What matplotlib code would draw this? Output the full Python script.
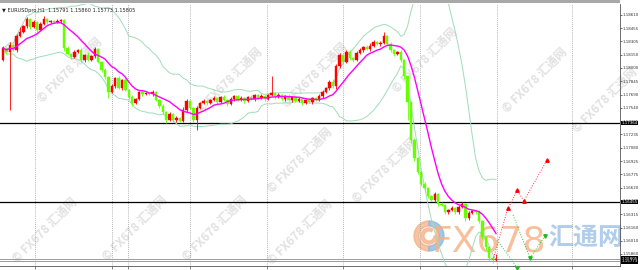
import matplotlib
matplotlib.use("Agg")
import matplotlib.pyplot as plt
import pandas as pd
from matplotlib.patches import Rectangle, Wedge

# EURUSD H1 closes (open of each bar = previous close)
first_open = 1.18088
closes = [
    1.18226, 1.18180, 1.18261, 1.18203, 1.18364, 1.18410, 1.18479, 1.18560, 1.18468, 1.18525,
    1.18433, 1.18502, 1.18560, 1.18525, 1.18537, 1.18525, 1.18537, 1.18548, 1.18226, 1.18157,
    1.18123, 1.18180, 1.18203, 1.18088, 1.18146, 1.18088, 1.18134, 1.18215, 1.18065, 1.17973,
    1.17893, 1.17720, 1.17789, 1.17881, 1.17766, 1.17858, 1.17743, 1.17663, 1.17594, 1.17640,
    1.17720, 1.17697, 1.17709, 1.17697, 1.17720, 1.17628, 1.17559, 1.17490, 1.17398, 1.17467,
    1.17398, 1.17421, 1.17387, 1.17513, 1.17617, 1.17536, 1.17398, 1.17536, 1.17594, 1.17617,
    1.17594, 1.17628, 1.17651, 1.17605, 1.17663, 1.17628, 1.17582, 1.17640, 1.17674, 1.17628,
    1.17651, 1.17617, 1.17663, 1.17640, 1.17686, 1.17651, 1.17674, 1.17640, 1.17686, 1.17709,
    1.17663, 1.17686, 1.17640, 1.17674, 1.17628, 1.17663, 1.17617, 1.17640, 1.17594, 1.17628,
    1.17605, 1.17651, 1.17628, 1.17674, 1.17720, 1.17766, 1.17835, 1.17789, 1.18019, 1.18146,
    1.18065, 1.18180, 1.18111, 1.18088, 1.18169, 1.18203, 1.18238, 1.18215, 1.18249, 1.18295,
    1.18272, 1.18284, 1.18364, 1.18272, 1.18203, 1.18157, 1.18180, 1.18088, 1.17904, 1.17605,
    1.17168, 1.16961, 1.16800, 1.16662, 1.16616, 1.16524, 1.16478, 1.16547, 1.16432, 1.16421,
    1.16340, 1.16363, 1.16386, 1.16340, 1.16398, 1.16432, 1.16271, 1.16329, 1.16352, 1.16340,
    1.16237, 1.16053, 1.15938, 1.15811, 1.15791, 1.15805]

# wick lengths in points (1e-5)
upper_wick = [
    20, 15, 30, 10, 25, 60, 15, 20, 10, 25,
    15, 20, 30, 10, 15, 10, 20, 15, 10, 20,
    15, 25, 10, 20, 15, 30, 15, 20, 10, 15,
    20, 10, 25, 15, 20, 10, 25, 15, 20, 10,
    15, 20, 10, 15, 25, 10, 15, 20, 10, 25,
    15, 20, 10, 30, 20, 15, 10, 25, 15, 20,
    10, 15, 20, 10, 15, 25, 10, 20, 15, 10,
    20, 15, 10, 25, 15, 10, 20, 15, 10, 195,
    15, 20, 10, 15, 20, 10, 15, 25, 10, 15,
    20, 10, 15, 20, 25, 15, 20, 30, 25, 20,
    15, 25, 20, 15, 20, 25, 15, 20, 30, 20,
    15, 25, 46, 15, 20, 10, 15, 20, 15, 10,
    15, 20, 10, 15, 20, 10, 15, 25, 10, 20,
    15, 10, 20, 15, 25, 20, 15, 20, 10, 15,
    20, 15, 10, 15, 20, 55]
lower_wick = [
    15, 20, 667, 15, 20, 10, 15, 20, 25, 10,
    20, 15, 10, 20, 15, 10, 15, 20, 30, 15,
    20, 10, 15, 25, 20, 15, 10, 20, 15, 25,
    20, 70, 15, 20, 10, 25, 15, 20, 30, 15,
    10, 20, 15, 10, 20, 15, 25, 20, 30, 15,
    20, 25, 15, 10, 20, 15, 20, 115, 15, 10,
    20, 15, 10, 20, 15, 10, 25, 15, 20, 10,
    15, 20, 10, 15, 20, 10, 15, 20, 15, 10,
    20, 15, 10, 20, 15, 25, 10, 15, 20, 10,
    15, 20, 10, 15, 20, 15, 25, 20, 30, 25,
    20, 15, 25, 20, 15, 10, 20, 15, 25, 10,
    15, 20, 10, 15, 20, 25, 15, 20, 40, 207,
    40, 30, 25, 20, 25, 20, 15, 25, 20, 15,
    25, 20, 15, 20, 25, 15, 30, 20, 15, 20,
    25, 20, 30, 35, 40, 18]

level_lines = [1.17364, 1.16455]
price_lines = [1.15805, 1.15773]
tick_labels = ["1.15860", "1.16010", "1.16160", "1.16315", "1.16470", "1.16620", "1.16775",
               "1.16925", "1.17080", "1.17235", "1.17385", "1.17540", "1.17690", "1.17845",
               "1.18000", "1.18150", "1.18305", "1.18455", "1.18610"]
grid_bars = [9.4, 32, 36.8, 55, 77.6, 100, 122.6, 145.3, 167.4]

# forecast arrows (bar index, price)
red_a_x = [144.1, 148.5]
red_a_y = [1.15788, 1.16386]
red_b_x = [149.1, 151.2, 153.2, 160.0]
red_b_y = [1.16421, 1.16593, 1.16467, 1.16938]
green_a_x = [145.3, 151.2]
green_a_y = [1.16018, 1.15700]
green_b_x = [150.0, 155.0, 159.4]
green_b_y = [1.16305, 1.15811, 1.16064]

header = "\u25bc EURUSDpro,H1  1.15791 1.15860 1.15773 1.15805"

opens = [first_open] + closes[:-1]
highs = [max(o, c) + w / 1e5 for o, c, w in zip(opens, closes, upper_wick)]
lows = [min(o, c) - w / 1e5 for o, c, w in zip(opens, closes, lower_wick)]

s = pd.Series(closes)
ma = s.rolling(10, min_periods=1).mean()
mid = s.rolling(20, min_periods=1).mean()
sd = s.rolling(20, min_periods=1).std(ddof=0)
bb_up = mid + 2 * sd
bb_dn = mid - 2 * sd

cjk = ["Noto Sans CJK SC", "DejaVu Sans"]

fig = plt.figure(figsize=(6.4, 2.7), dpi=100)
fig.patch.set_facecolor("white")

# background layer in pixel coordinates (watermarks, logo)
bg = fig.add_axes([0, 0, 1, 1])
bg.set_xlim(0, 640)
bg.set_ylim(270, 0)
bg.axis("off")
bg.add_patch(Rectangle((0, 0), 620, 3, color="#A8A8A8", lw=0))

wm = [(70, 70), (230, 80), (315, 75), (425, 60), (535, 80), (605, 100),
      (45, 230), (135, 228), (215, 228), (300, 160), (385, 170), (300, 232)]
for wx, wy in wm:
    bg.text(wx, wy, "\u00a9 FX678 \u6c47\u901a\u7f51", rotation=45, fontsize=8.5,
            color="#C4C4C4", alpha=0.5, ha="center", va="center", family=cjk,
            fontweight="bold")

bg.add_patch(Wedge((429, 236), 15, 90, 270, width=5, color="#F6B48A", alpha=0.8))
bg.add_patch(Wedge((429, 236), 15, -90, 90, width=5, color="#8DB8E2", alpha=0.8))
bg.add_patch(Wedge((429, 236), 8, 0, 300, width=3, color="#F6B48A", alpha=0.8))
bg.text(489, 242, "FX678", fontsize=26, color="#F7B084", alpha=0.8, ha="center",
        va="center", family=["Liberation Sans Narrow", "DejaVu Sans"])
bg.text(586, 238, "\u6c47\u901a\u7f51", fontsize=18, color="#9CC2E8", alpha=0.8,
        ha="center", va="center", family=cjk, fontweight="bold")

ax = fig.add_axes([0, 4 / 270, 620 / 640, 262 / 270])
ax.set_facecolor("none")
ax.set_xlim(-0.88, 181.47)
ax.set_ylim(1.15719, 1.18732)

for gx in grid_bars:
    ax.axvline(gx, color="#9A9A9A", lw=0.6, ls=(0, (1, 1.5)), zorder=1)

for lv in level_lines:
    ax.axhline(lv, color="black", lw=0.9, zorder=2)
for pl in price_lines:
    ax.axhline(pl, color="#9A9A9A", lw=0.7, zorder=2)

ax.plot(range(len(closes)), bb_up, color="#9FDDB8", lw=0.7, zorder=3)
ax.plot(range(len(closes)), bb_dn, color="#9FDDB8", lw=0.7, zorder=3)

x = list(range(len(closes)))
cols = ["#FF0000" if c >= o else "#66FF00" for o, c in zip(opens, closes)]
ax.vlines(x, lows, highs, colors=cols, lw=0.6, zorder=4)
ax.bar(x, [c - o for o, c in zip(opens, closes)], bottom=opens, width=0.75,
       color=cols, edgecolor=cols, lw=0.3, zorder=5)

ax.plot(x, ma, color="#FF00FF", lw=1.0, zorder=6)

ax.plot(red_a_x, red_a_y, color="#FF3030", lw=0.7, ls=":", zorder=7)
ax.plot(red_b_x, red_b_y, color="#FF3030", lw=0.7, ls=":", zorder=7)
ax.plot(red_a_x[-1:], red_a_y[-1:], "^", color="#FF0000", ms=2.5, zorder=7)
ax.plot(red_b_x[1:], red_b_y[1:], "^", color="#FF0000", ms=2.5, zorder=7)
ax.plot(green_a_x, green_a_y, color="#33CC33", lw=0.7, ls=":", zorder=7, clip_on=False)
ax.plot(green_b_x, green_b_y, color="#33CC33", lw=0.7, ls=":", zorder=7)
ax.plot(green_a_x[-1:], green_a_y[-1:], "v", color="#22BB22", ms=2.5, zorder=7, clip_on=False)
ax.plot(green_b_x[1:], green_b_y[1:], "v", color="#22BB22", ms=2.5, zorder=7)

for sp in ["left", "top"]:
    ax.spines[sp].set_visible(False)
ax.spines["right"].set_color("#555555")
ax.spines["right"].set_linewidth(0.6)
ax.spines["bottom"].set_color("#555555")
ax.spines["bottom"].set_linewidth(0.6)

ax.yaxis.tick_right()
ax.set_yticks([float(t) for t in tick_labels])
ax.set_yticklabels(tick_labels)
ax.tick_params(axis="y", labelsize=2.9, length=1.5, width=0.5, pad=0.5, colors="#333333")
ax.set_xticks(grid_bars)
ax.set_xticklabels([])
ax.tick_params(axis="x", length=2, width=0.5, colors="#555555")

for lv in level_lines + price_lines:
    ax.text(1.0025, lv, f"{lv:.5f}", transform=ax.get_yaxis_transform(), fontsize=2.9,
            color="white", va="center", ha="left", clip_on=False,
            bbox=dict(boxstyle="square,pad=0.1", fc="black", ec="none"))

ax.text(0.003, 0.985, header, transform=ax.transAxes, fontsize=3.6, color="#222222",
        va="top", ha="left")

fig.savefig("out.png", dpi=100)
